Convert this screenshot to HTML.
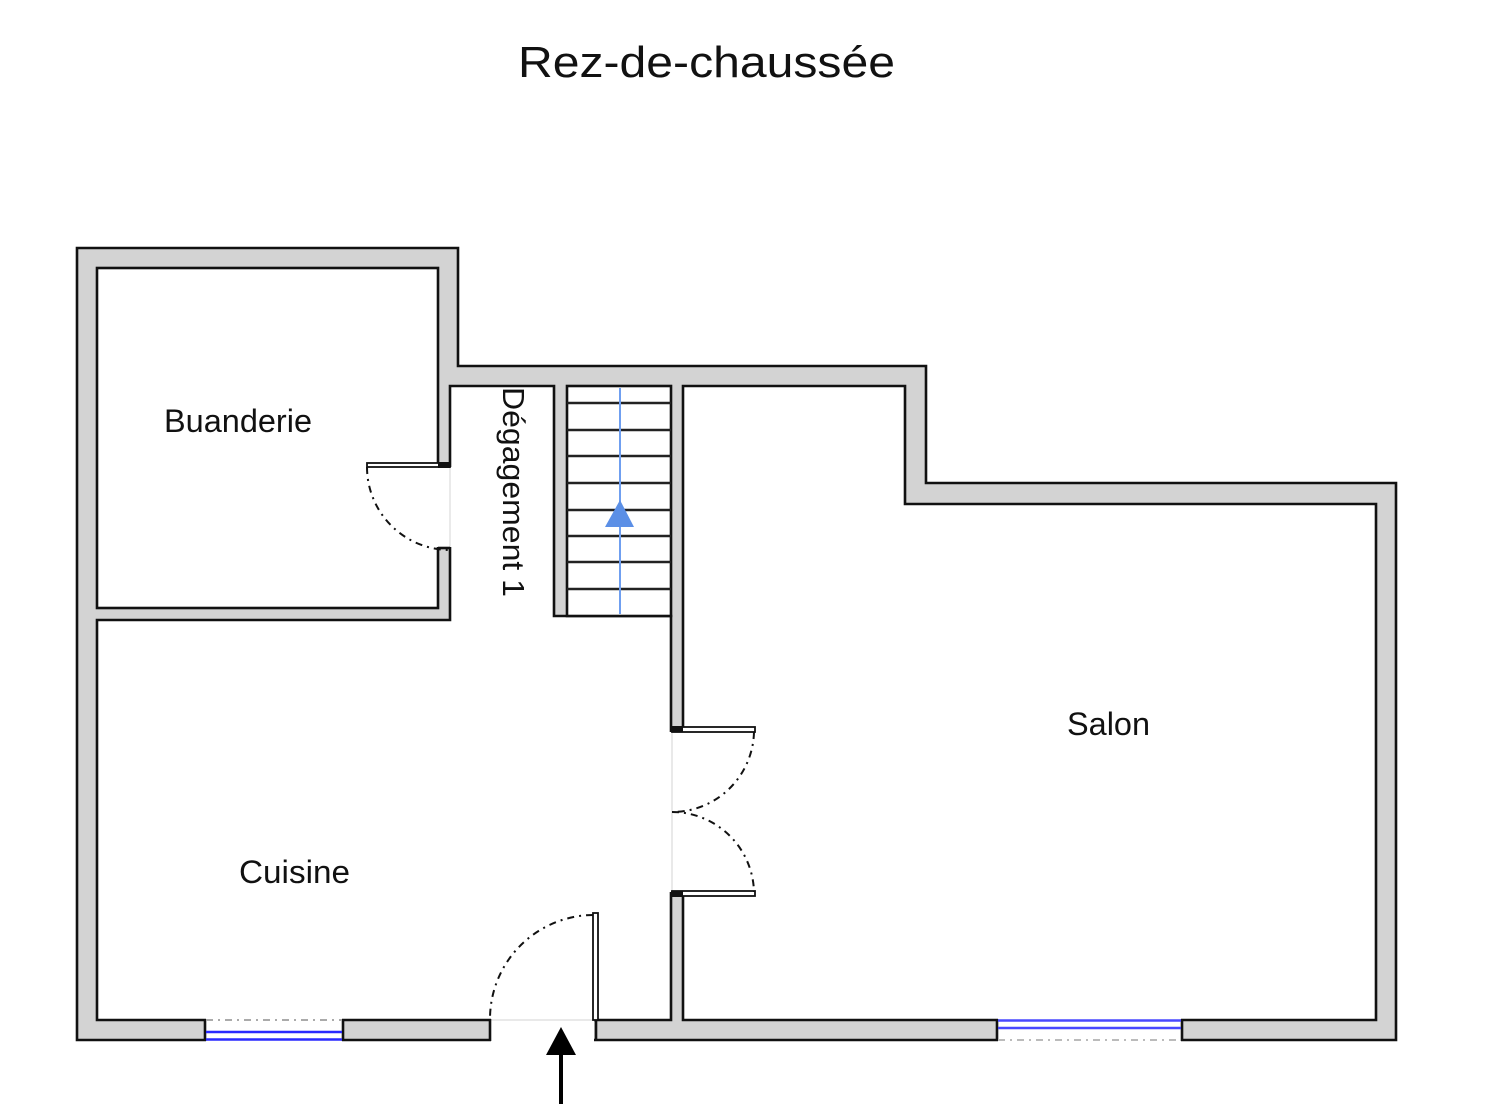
<!DOCTYPE html>
<html>
<head>
<meta charset="utf-8">
<style>
  html, body { margin:0; padding:0; background:#fff; }
  body { width:1492px; height:1104px; overflow:hidden; }
  svg { display:block; }
  text { font-family: "Liberation Sans", "DejaVu Sans", sans-serif; fill:#111; }
</style>
</head>
<body>
<svg width="1492" height="1104" viewBox="0 0 1492 1104" xmlns="http://www.w3.org/2000/svg">
  <rect x="0" y="0" width="1492" height="1104" fill="#fff"/>

  <!-- Title -->
  <text x="518" y="77" font-size="44" textLength="377" lengthAdjust="spacingAndGlyphs">Rez-de-chaussée</text>

  <!-- Outer wall mass -->
  <polygon points="77,248 458,248 458,366 926,366 926,483 1396,483 1396,1040 77,1040"
           fill="#d3d3d3" stroke="#111" stroke-width="2.6" stroke-linejoin="miter"/>

  <!-- Rooms (white interiors) -->
  <rect x="97" y="268" width="341" height="340" fill="#fff" stroke="#111" stroke-width="2.6"/>
  <polygon points="450,386 554,386 554,616 671,616 671,1020 97,1020 97,620 450,620"
           fill="#fff" stroke="#111" stroke-width="2.6"/>
  <polygon points="683,386 905,386 905,504 1376,504 1376,1020 683,1020"
           fill="#fff" stroke="#111" stroke-width="2.6"/>

  <!-- Staircase -->
  <rect x="567" y="386" width="104" height="230" fill="#fff" stroke="#111" stroke-width="2.6"/>
  <g stroke="#222" stroke-width="2.6">
    <line x1="567" y1="403" x2="671" y2="403"/>
    <line x1="567" y1="430" x2="671" y2="430"/>
    <line x1="567" y1="456" x2="671" y2="456"/>
    <line x1="567" y1="483" x2="671" y2="483"/>
    <line x1="567" y1="510" x2="671" y2="510"/>
    <line x1="567" y1="536" x2="671" y2="536"/>
    <line x1="567" y1="562" x2="671" y2="562"/>
    <line x1="567" y1="589" x2="671" y2="589"/>
  </g>
  <line x1="620" y1="388" x2="620" y2="614" stroke="#6f9ff0" stroke-width="2"/>
  <polygon points="620,500 605,527 634,527" fill="#5b8fe6"/>

  <!-- Buanderie door -->
  <rect x="436" y="467" width="16" height="80" fill="#fff"/>
  <line x1="450" y1="467" x2="450" y2="547" stroke="#e2e2e2" stroke-width="1.5"/>
  <line x1="438" y1="548" x2="450" y2="548" stroke="#111" stroke-width="2.6"/>
  <rect x="367" y="463" width="83" height="4" fill="#fff" stroke="#111" stroke-width="1.8"/>
  <rect x="438" y="462" width="12" height="6" fill="#111"/>
  <path d="M367,467 A83,83 0 0 0 450,550" fill="none" stroke="#111" stroke-width="2" stroke-dasharray="7,5,2,5"/>

  <!-- Salon double door -->
  <rect x="669" y="732" width="16" height="160" fill="#fff"/>
  <line x1="672" y1="732" x2="672" y2="892" stroke="#e2e2e2" stroke-width="1.5"/>
  <rect x="672" y="727" width="83" height="5" fill="#fff" stroke="#111" stroke-width="1.8"/>
  <rect x="671" y="726" width="12" height="6" fill="#111"/>
  <rect x="672" y="891" width="83" height="5" fill="#fff" stroke="#111" stroke-width="1.8"/>
  <rect x="671" y="891" width="12" height="6" fill="#111"/>
  <path d="M754,732 A82,82 0 0 1 672,812" fill="none" stroke="#111" stroke-width="2" stroke-dasharray="7,5,2,5"/>
  <path d="M672,812 A82,82 0 0 1 754,892" fill="none" stroke="#111" stroke-width="2" stroke-dasharray="7,5,2,5"/>

  <!-- Entry door -->
  <rect x="491" y="1018" width="103" height="25" fill="#fff"/>
  <line x1="490" y1="1020" x2="595" y2="1020" stroke="#e2e2e2" stroke-width="1.5"/>
  <line x1="490" y1="1019" x2="490" y2="1041" stroke="#111" stroke-width="2.6"/>
  <line x1="596" y1="1019" x2="596" y2="1041" stroke="#111" stroke-width="2.6"/>
  <rect x="593" y="913" width="5" height="107" fill="#fff" stroke="#111" stroke-width="1.8"/>
  <path d="M593,915 A104,104 0 0 0 490,1018" fill="none" stroke="#111" stroke-width="2" stroke-dasharray="7,5,2,5"/>

  <!-- Left window (Cuisine) -->
  <rect x="206" y="1018" width="136" height="25" fill="#fff"/>
  <line x1="205" y1="1019" x2="205" y2="1041" stroke="#111" stroke-width="2.6"/>
  <line x1="343" y1="1019" x2="343" y2="1041" stroke="#111" stroke-width="2.6"/>
  <line x1="206" y1="1020" x2="342" y2="1020" stroke="#aaa" stroke-width="2" stroke-dasharray="7,5,2,5"/>
  <line x1="206" y1="1032" x2="342" y2="1032" stroke="#2a2aff" stroke-width="2.6"/>
  <line x1="206" y1="1039.5" x2="342" y2="1039.5" stroke="#2a2aff" stroke-width="2.6"/>

  <!-- Right window (Salon) -->
  <rect x="998" y="1018" width="183" height="25" fill="#fff"/>
  <line x1="997" y1="1019" x2="997" y2="1041" stroke="#111" stroke-width="2.6"/>
  <line x1="1182" y1="1019" x2="1182" y2="1041" stroke="#111" stroke-width="2.6"/>
  <line x1="998" y1="1020.5" x2="1181" y2="1020.5" stroke="#4848ff" stroke-width="2.6"/>
  <line x1="998" y1="1028" x2="1181" y2="1028" stroke="#4848ff" stroke-width="2.6"/>
  <line x1="998" y1="1040" x2="1181" y2="1040" stroke="#bbb" stroke-width="2" stroke-dasharray="7,5,2,5"/>

  <!-- Entry arrow -->
  <line x1="561" y1="1050" x2="561" y2="1104" stroke="#000" stroke-width="4"/>
  <polygon points="561,1027 546,1055 576,1055" fill="#000"/>

  <!-- Room labels -->
  <text x="164" y="432" font-size="32" textLength="148" lengthAdjust="spacingAndGlyphs">Buanderie</text>
  <text x="239" y="883" font-size="32" textLength="111" lengthAdjust="spacingAndGlyphs">Cuisine</text>
  <text x="1067" y="735" font-size="32" textLength="83" lengthAdjust="spacingAndGlyphs">Salon</text>
  <text transform="translate(503,387) rotate(90)" x="0" y="0" font-size="31" textLength="210" lengthAdjust="spacingAndGlyphs">Dégagement 1</text>
</svg>
</body>
</html>
